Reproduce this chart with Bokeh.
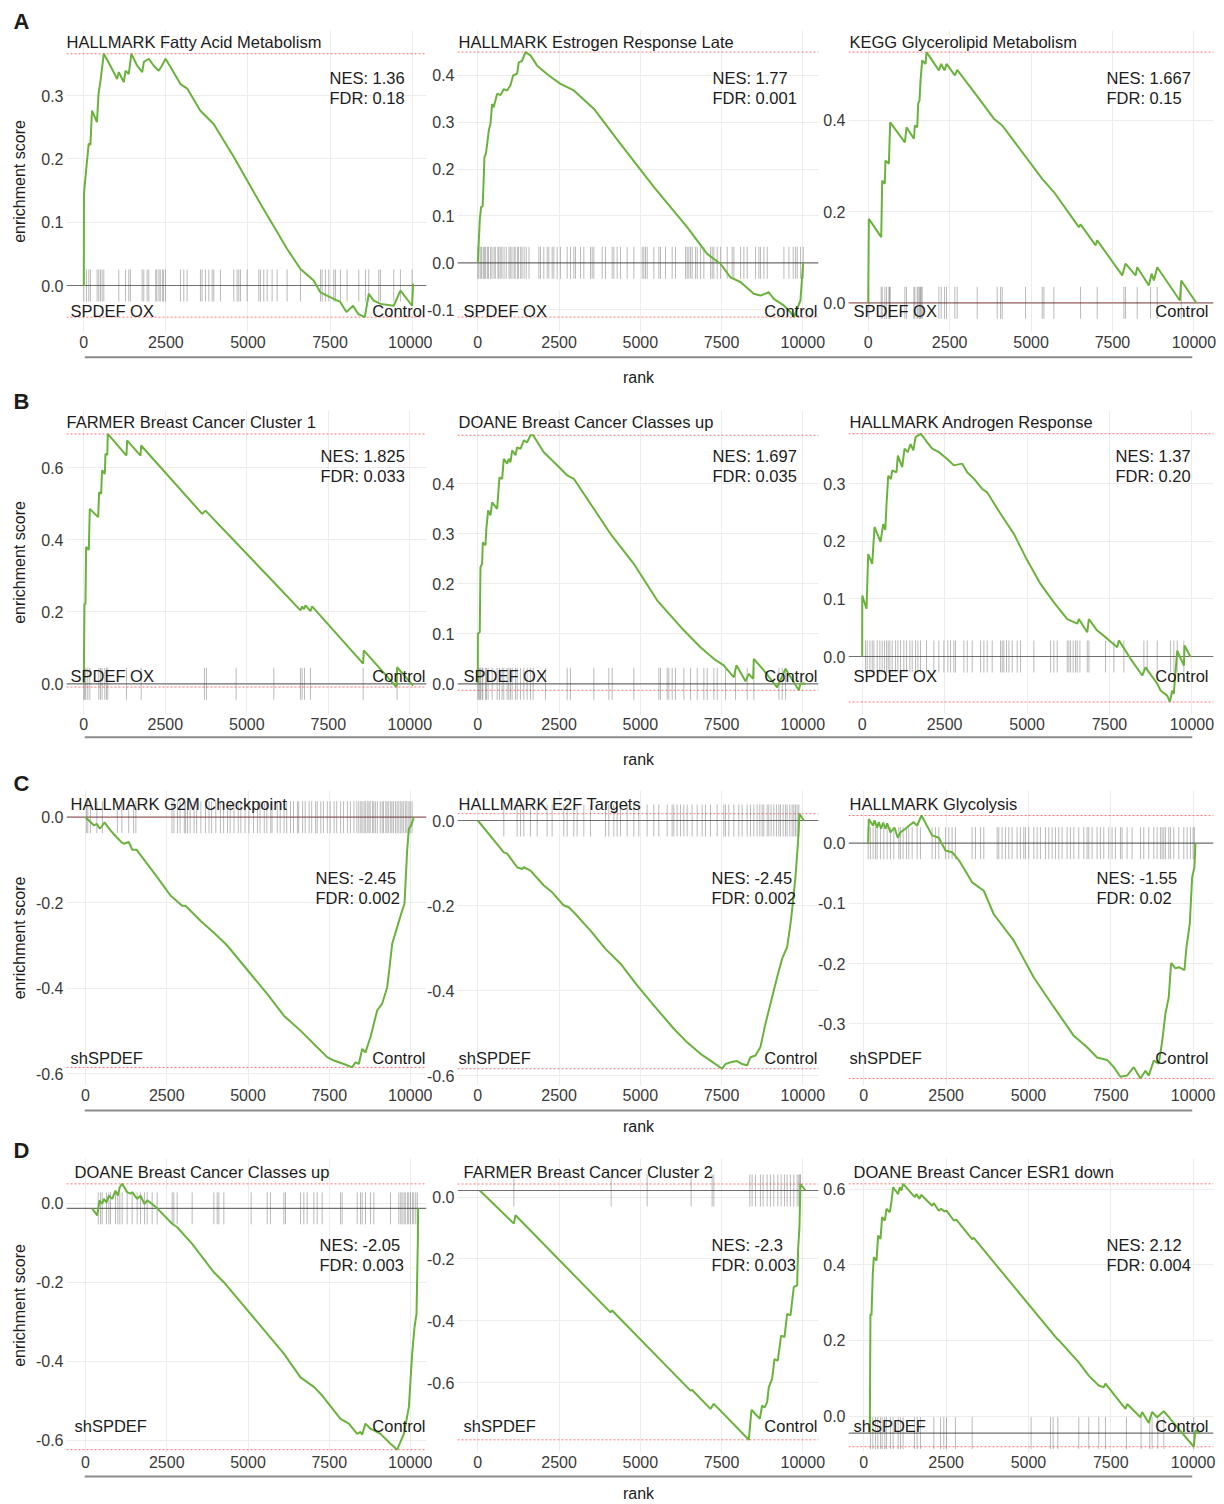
from bokeh.plotting import figure
from bokeh.layouts import column, row
from bokeh.models import Range1d, FixedTicker, PrintfTickFormatter, Span, Label
from bokeh.embed import file_html
from bokeh.resources import INLINE

# ---------------------------------------------------------------- data
# running enrichment score curves (rank, ES) and gene-set hit ranks

fatty_rank = [0, 5, 80, 150, 200, 250, 400, 450, 510, 610, 810, 1015, 1065, 1220, 1270, 1370, 1450, 1625, 1780, 1830,
              1980, 2130, 2280, 2380, 2490, 2640, 2945, 3150, 3550, 3955, 4570, 5380, 6190, 6600, 7000, 7210, 7610,
              7810, 8000, 8200, 8360, 8560, 8680, 8830, 9040, 9440, 9645, 10000, 10030]
fatty_es = [0.0, 0.145, 0.187, 0.224, 0.222, 0.276, 0.258, 0.303, 0.324, 0.366, 0.347, 0.326, 0.337, 0.321, 0.339,
            0.334, 0.366, 0.347, 0.337, 0.353, 0.358, 0.347, 0.339, 0.347, 0.358, 0.345, 0.318, 0.311, 0.276, 0.255,
            0.203, 0.129, 0.058, 0.026, 0.008, -0.011, -0.021, -0.026, -0.042, -0.032, -0.045, -0.050, -0.013,
            -0.024, -0.029, -0.032, -0.008, -0.032, 0.003]
fatty_hits = [0, 81, 152, 203, 406, 457, 508, 558, 609, 1066, 1269, 1371, 1421, 1777, 1827, 1929, 1980, 2190, 2225,
              2290, 2330, 2395, 2430, 2490, 2944, 3046, 3147, 3553, 3604, 3706, 3807, 3909, 3959, 4162, 4569, 4670,
              4721, 4772, 4975, 5330, 5381, 5482, 5584, 5736, 5888, 6193, 6599, 7208, 7259, 7360, 7462, 7614, 7665,
              7817, 8020, 8376, 8579, 8680, 8985, 9036, 9442, 9645, 10000]

estrogen_rank = [0, 60, 100, 150, 205, 250, 340, 390, 440, 490, 595, 700, 800, 900, 1005, 1087, 1210, 1260, 1360,
                 1467, 1620, 1826, 2185, 2544, 2954, 3569, 4390, 5415, 6441, 7056, 7467, 7774, 8082, 8492, 8697,
                 8954, 9108, 9415, 9620, 9723, 9928, 10010]
estrogen_es = [0.0, 0.09, 0.119, 0.121, 0.226, 0.233, 0.283, 0.297, 0.339, 0.332, 0.361, 0.358, 0.371, 0.368, 0.379,
               0.4, 0.404, 0.428, 0.431, 0.45, 0.443, 0.421, 0.4, 0.382, 0.368, 0.329, 0.254, 0.162, 0.076, 0.019,
               -0.002, -0.031, -0.041, -0.066, -0.07, -0.063, -0.077, -0.091, -0.105, -0.116, -0.08, 0.0]
estrogen_hits = [0, 35, 90, 118, 170, 205, 240, 296, 330, 395, 436, 500, 540, 620, 650, 705, 745, 808, 875, 960,
                 1000, 1050, 1115, 1150, 1220, 1255, 1320, 1360, 1425, 1490, 1575, 1878, 1929, 2031, 2134, 2185,
                 2288, 2339, 2442, 2544, 2750, 2852, 2955, 3006, 3160, 3262, 3468, 3519, 3570, 3827, 3929, 4134,
                 4186, 4288, 4391, 4596, 4801, 5058, 5109, 5160, 5212, 5417, 5571, 5622, 5776, 5981, 6084, 6392,
                 6443, 6494, 6546, 6597, 6700, 6751, 6854, 6956, 7161, 7213, 7264, 7367, 7469, 7674, 7828, 7880,
                 8085, 8187, 8290, 8546, 8649, 8700, 8803, 8906, 9419, 9573, 9706, 9778, 9829, 9932, 10014]

glycerolipid_rank = [0, 20, 400, 430, 510, 530, 635, 655, 675, 1126, 1177, 1402, 1433, 1505, 1535, 1576, 1607, 1658,
                     1760, 1791, 2170, 2241, 2344, 2405, 2661, 2733, 3327, 3859, 4115, 5343, 5701, 6469, 6520, 6981,
                     7032, 7800, 7902, 8209, 8260, 8618, 8700, 8772, 8874, 9570, 9611, 10072]
glycerolipid_es = [0.0, 0.184, 0.144, 0.268, 0.261, 0.312, 0.305, 0.352, 0.396, 0.352, 0.385, 0.36, 0.389, 0.385,
                   0.437, 0.444, 0.488, 0.532, 0.524, 0.55, 0.51, 0.524, 0.51, 0.524, 0.499, 0.511, 0.455, 0.404,
                   0.389, 0.272, 0.243, 0.166, 0.172, 0.126, 0.137, 0.06, 0.086, 0.06, 0.078, 0.038, 0.064, 0.049,
                   0.078, 0.005, 0.049, 0.0]
glycerolipid_hits = [20, 399, 430, 512, 563, 635, 655, 676, 1126, 1177, 1402, 1433, 1505, 1535, 1576, 1607, 1627,
                     1658, 2170, 2242, 2344, 2405, 2661, 2733, 3347, 3961, 4063, 4115, 4831, 5343, 5394, 5701, 6520,
                     7032, 7851, 7902, 8260, 8669, 8874, 9611]

farmer1_rank = [0, 20, 50, 72, 153, 184, 440, 470, 532, 560, 644, 665, 720, 736, 1309, 1329, 1738, 1759, 3630, 3732,
                4652, 5828, 6646, 6697, 6750, 6800, 6953, 7004, 8569, 8589, 9591, 9611, 10102]
farmer1_es = [0.0, 0.222, 0.22, 0.38, 0.372, 0.486, 0.463, 0.532, 0.528, 0.593, 0.583, 0.639, 0.636, 0.694, 0.634,
              0.676, 0.634, 0.662, 0.472, 0.481, 0.394, 0.282, 0.204, 0.215, 0.207, 0.218, 0.202, 0.215, 0.056,
              0.093, -0.009, 0.046, -0.005]
farmer1_hits = [0, 31, 61, 123, 184, 460, 511, 562, 644, 695, 736, 1309, 1759, 3701, 3763, 4673, 5828, 6646, 6697,
                6769, 6953, 8569, 9611]

doane_ox_rank = [0, 2, 60, 82, 133, 154, 236, 267, 318, 390, 441, 595, 667, 749, 800, 903, 954, 1005, 1056, 1159,
                 1210, 1313, 1415, 1518, 1620, 1703, 2031, 2441, 2749, 2954, 3569, 4082, 4800, 5518, 5928, 6338,
                 6851, 7262, 7569, 7877, 7959, 8236, 8338, 8472, 8492, 8800, 9210, 9467, 9877, 9928, 10082]
doane_ox_es = [0.0, 0.1, 0.103, 0.233, 0.24, 0.283, 0.277, 0.313, 0.347, 0.337, 0.363, 0.35, 0.413, 0.41, 0.45,
               0.44, 0.45, 0.443, 0.467, 0.457, 0.473, 0.47, 0.487, 0.483, 0.497, 0.497, 0.463, 0.437, 0.417, 0.41,
               0.35, 0.3, 0.24, 0.167, 0.137, 0.107, 0.073, 0.05, 0.037, 0.013, 0.037, 0.005, 0.02, 0.01, 0.05,
               0.027, -0.007, 0.03, -0.013, 0.001, 0.0]
doane_ox_hits = [0, 31, 62, 82, 133, 154, 236, 267, 318, 441, 595, 667, 749, 800, 903, 954, 1005, 1057, 1159, 1211,
                 1313, 1416, 1518, 1621, 1703, 2083, 2750, 2852, 3570, 4032, 4135, 4801, 5571, 5622, 5827, 5878,
                 5981, 6084, 6341, 6546, 6751, 6956, 7059, 7264, 7367, 7623, 7931, 8290, 8495, 9265, 9368, 9470]

androgen_rank = [0, 2, 131, 182, 303, 374, 556, 637, 700, 738, 789, 870, 910, 1040, 1082, 1213, 1284, 1380, 1466,
                 1550, 1618, 1700, 1770, 1870, 1972, 2123, 2326, 2578, 2780, 3033, 3185, 3387, 3640, 3792, 4196,
                 4600, 5005, 5409, 5814, 6218, 6521, 6571, 6825, 6875, 7128, 7432, 7735, 7785, 8140, 8494, 8594,
                 8948, 9050, 9250, 9332, 9403, 9450, 9555, 9757, 9777, 9960]
androgen_es = [0.0, 0.106, 0.083, 0.178, 0.161, 0.225, 0.199, 0.23, 0.22, 0.265, 0.314, 0.308, 0.323, 0.32, 0.349,
               0.329, 0.361, 0.355, 0.369, 0.358, 0.381, 0.384, 0.387, 0.38, 0.372, 0.361, 0.355, 0.343, 0.332,
               0.335, 0.32, 0.309, 0.291, 0.285, 0.248, 0.213, 0.167, 0.126, 0.094, 0.065, 0.057, 0.065, 0.042,
               0.065, 0.045, 0.031, 0.016, 0.028, -0.004, -0.033, -0.019, -0.047, -0.059, -0.068, -0.079, -0.059,
               -0.065, 0.01, -0.016, 0.019, -0.001]
androgen_hits = [101, 152, 233, 303, 354, 455, 536, 607, 677, 738, 789, 839, 910, 1011, 1082, 1163, 1264, 1345, 1446,
                 1517, 1618, 1689, 1769, 1951, 2174, 2326, 2477, 2599, 2680, 2781, 2831, 3084, 3185, 3337, 3590,
                 3691, 3792, 3943, 4196, 4247, 4297, 4378, 4449, 4550, 4702, 4803, 5207, 5713, 5814, 5915, 6218,
                 6269, 6320, 6400, 6471, 6522, 6603, 6825, 6876, 7381, 7634, 7937, 8544, 8645, 8948, 9353, 9454,
                 9555, 9757]

g2m_rank = [0, 256, 350, 441, 513, 585, 770, 974, 1128, 1180, 1333, 1436, 1569, 2205, 2615, 2974, 3077, 3538, 4051,
            4359, 5077, 5590, 6103, 6615, 7128, 7436, 7641, 7949, 8205, 8308, 8410, 8513, 8615, 8769, 8974, 9128,
            9282, 9333, 9436, 9590, 9744, 9815, 9897, 9949, 10020, 10100]
g2m_es = [0.0, -0.019, -0.016, -0.027, -0.02, -0.012, -0.031, -0.048, -0.06, -0.062, -0.058, -0.076, -0.076, -0.14,
          -0.183, -0.207, -0.207, -0.242, -0.277, -0.3, -0.366, -0.413, -0.464, -0.499, -0.538, -0.561, -0.569,
          -0.577, -0.585, -0.573, -0.577, -0.542, -0.55, -0.514, -0.452, -0.436, -0.398, -0.366, -0.296, -0.257,
          -0.218, -0.203, -0.078, -0.027, -0.019, 0.0]
g2m_hits = [30, 70, 150, 350, 520, 980, 1120, 1330, 1480, 1550, 2660, 2720, 2830, 2910, 3040, 3080, 3140, 3220, 3340,
            3420, 3550, 3690, 3800, 3880, 4010, 4150, 4250, 4370, 4450, 4570, 4700, 4780, 4910, 5030, 5170, 5290,
            5370, 5500, 5580, 5700, 5740, 5900, 5990, 6110, 6190, 6310, 6400, 6520, 6560, 6680, 6760, 6880, 6960,
            7080, 7130, 7240, 7320, 7440, 7530, 7650, 7730, 7850, 7940, 8060, 8150, 8260, 8350, 8410, 8470, 8510,
            8570, 8610, 8670, 8720, 8760, 8830, 8870, 8920, 8980, 9070, 9130, 9170, 9240, 9280, 9330, 9390, 9430,
            9480, 9540, 9590, 9640, 9700, 9740, 9790, 9850, 9890, 9950, 9990, 10050]

e2f_rank = [0, 800, 903, 1210, 1364, 1415, 1621, 2031, 2287, 2646, 2800, 3005, 3467, 3928, 4390, 4903, 5415, 6031,
            6441, 6851, 7159, 7518, 7621, 7774, 7979, 8133, 8287, 8390, 8544, 8697, 8851, 9005, 9210, 9364, 9518,
            9621, 9692, 9774, 9856, 9897, 10031]
e2f_es = [0.0, -0.075, -0.078, -0.11, -0.114, -0.11, -0.118, -0.153, -0.169, -0.2, -0.204, -0.22, -0.259, -0.302,
          -0.337, -0.388, -0.435, -0.49, -0.522, -0.549, -0.565, -0.584, -0.573, -0.569, -0.566, -0.573, -0.576,
          -0.557, -0.553, -0.533, -0.478, -0.431, -0.369, -0.325, -0.298, -0.243, -0.196, -0.133, -0.047, 0.016, 0.0]
e2f_hits = [800, 1210, 1313, 1415, 1621, 1826, 2133, 2287, 2646, 2749, 2954, 3056, 3262, 3467, 3928, 4031, 4185, 4287,
            4390, 4595, 4800, 4954, 5210, 5415, 5569, 5826, 5979, 6031, 6133, 6236, 6338, 6441, 6595, 6749, 6903,
            7005, 7159, 7364, 7569, 7621, 7723, 7877, 8031, 8133, 8287, 8390, 8492, 8595, 8677, 8749, 8800, 8903,
            8954, 9026, 9108, 9190, 9262, 9313, 9395, 9467, 9518, 9600, 9672, 9723, 9774, 9826, 9877]

glycolysis_rank = [132, 152, 283, 324, 405, 455, 526, 587, 658, 709, 810, 931, 1032, 1113, 1265, 1366, 1518, 1619,
                   1751, 2075, 2277, 2480, 2682, 2885, 3290, 3644, 3947, 4555, 5162, 5769, 6377, 6781, 7085, 7389,
                   7591, 7794, 7996, 8198, 8401, 8553, 8654, 8806, 8957, 9059, 9160, 9261, 9332, 9464, 9565, 9737,
                   9798, 9899, 9970, 10040, 10071]
glycolysis_es = [0.0, 0.040, 0.029, 0.038, 0.026, 0.035, 0.024, 0.034, 0.024, 0.033, 0.018, 0.026, 0.009, 0.018,
                 0.024, 0.029, 0.035, 0.029, 0.046, 0.013, 0.009, -0.012, -0.015, -0.028, -0.065, -0.079, -0.118,
                 -0.162, -0.223, -0.272, -0.320, -0.339, -0.356, -0.360, -0.372, -0.388, -0.386, -0.372, -0.391,
                 -0.378, -0.386, -0.361, -0.366, -0.330, -0.283, -0.256, -0.199, -0.208, -0.206, -0.211, -0.173,
                 -0.134, -0.057, -0.040, 0.0]
glycolysis_hits = [132, 202, 283, 354, 405, 506, 607, 709, 810, 911, 1063, 1113, 1194, 1296, 1366, 1468, 1619, 1721,
                   2075, 2176, 2277, 2480, 2581, 2682, 2783, 3290, 3391, 3543, 3644, 4049, 4099, 4200, 4302, 4403,
                   4504, 4656, 4757, 4858, 4909, 5010, 5162, 5263, 5364, 5516, 5617, 5719, 5820, 5921, 6022, 6174,
                   6275, 6377, 6528, 6680, 6781, 6832, 6933, 7085, 7186, 7287, 7439, 7540, 7642, 7794, 7844, 7996,
                   8148, 8401, 8502, 8654, 8806, 8907, 9008, 9059, 9109, 9160, 9261, 9312, 9413, 9565, 9717, 9818,
                   9919, 10000, 10040]

doane_sh_rank = [205, 359, 431, 513, 564, 646, 718, 821, 923, 995, 1056, 1128, 1282, 1385, 1436, 1590, 1692, 1815,
                 1897, 2051, 2205, 2667, 2821, 3282, 3949, 4256, 5077, 6103, 6615, 7026, 7282, 7846, 8103, 8359,
                 8462, 8513, 8615, 8769, 8872, 9077, 9385, 9590, 9795, 9949, 10051, 10123, 10185, 10226, 10236]
doane_sh_es = [-0.013, -0.031, 0.007, -0.002, 0.011, 0.002, 0.019, 0.011, 0.032, 0.019, 0.041, 0.049, 0.028, 0.024,
               0.028, 0.011, 0.019, -0.002, 0.007, -0.002, -0.013, -0.052, -0.061, -0.103, -0.175, -0.2, -0.28,
               -0.381, -0.441, -0.465, -0.487, -0.546, -0.558, -0.584, -0.579, -0.586, -0.558, -0.571, -0.575,
               -0.584, -0.609, -0.624, -0.584, -0.517, -0.381, -0.314, -0.28, -0.095, -0.013]
doane_sh_hits = [390, 462, 513, 646, 718, 769, 923, 995, 1056, 1128, 1282, 1436, 1590, 1692, 1815, 1897, 2051, 2205,
                 2667, 2718, 2821, 3282, 3949, 4051, 4103, 4256, 5097, 5590, 5692, 6103, 6154, 6615, 6718, 6821,
                 7026, 7128, 7282, 7846, 7897, 8359, 8462, 8513, 8615, 8769, 8872, 9385, 9641, 9700, 9740, 9800,
                 9840, 9905, 9945, 10000, 10060, 10100, 10160, 10210]

farmer2_rank = [62, 1108, 1159, 4082, 4133, 6544, 6595, 7159, 7262, 8338, 8421, 8677, 8749, 8821, 8903, 8954, 9056,
                9128, 9231, 9333, 9436, 9518, 9621, 9723, 9826, 9856, 9897, 9928, 10082]
farmer2_es = [0.021, -0.086, -0.059, -0.373, -0.367, -0.626, -0.624, -0.685, -0.669, -0.785, -0.688, -0.717, -0.674,
              -0.681, -0.663, -0.615, -0.588, -0.524, -0.529, -0.448, -0.453, -0.378, -0.383, -0.291, -0.286, -0.168,
              -0.098, 0.042, 0.021]
farmer2_hits = [1108, 4103, 5210, 6564, 7210, 7262, 8369, 8441, 8544, 8697, 8779, 8903, 9005, 9108, 9231, 9333,
                9436, 9518, 9621, 9723, 9826, 9877, 9908, 9928]

esr1_rank = [182, 202, 233, 273, 304, 385, 435, 506, 557, 638, 688, 789, 830, 891, 1043, 1093, 1144, 1194, 1549, 1599,
             1690, 1741, 2075, 2126, 2277, 2348, 2449, 2510, 2733, 2814, 3290, 3340, 5870, 5921, 6528, 6832, 7136,
             7287, 7338, 7945, 7996, 8401, 8451, 8654, 8755, 8907, 9109, 10020, 10071, 10223]
esr1_es = [-0.045, 0.270, 0.266, 0.376, 0.420, 0.411, 0.477, 0.468, 0.526, 0.517, 0.548, 0.539, 0.560, 0.605, 0.587,
           0.605, 0.596, 0.614, 0.579, 0.587, 0.574, 0.585, 0.556, 0.563, 0.543, 0.548, 0.541, 0.543, 0.517, 0.519,
           0.468, 0.471, 0.204, 0.201, 0.142, 0.107, 0.081, 0.076, 0.086, 0.019, 0.032, -0.003, 0.011, -0.018, 0.011,
           -0.003, 0.013, -0.081, -0.038, -0.045]
esr1_hits = [202, 273, 354, 425, 506, 557, 638, 688, 810, 891, 1043, 1113, 1194, 1538, 1619, 1721, 2126, 2328, 2429,
             2510, 2783, 3290, 5081, 5668, 5749, 5891, 6528, 6832, 7136, 7338, 7976, 8421, 8684, 8755, 8927, 9109,
             10020]

# level of the hit-rug baseline in each panel
rug_baseline = {"doane_sh": -0.013, "farmer2": 0.021, "esr1": -0.045}

panel_keys = [["fatty", "estrogen", "glycerolipid"],
              ["farmer1", "doane_ox", "androgen"],
              ["g2m", "e2f", "glycolysis"],
              ["doane_sh", "farmer2", "esr1"]]

titles = {
    "fatty": "HALLMARK Fatty Acid Metabolism", "estrogen": "HALLMARK Estrogen Response Late",
    "glycerolipid": "KEGG Glycerolipid Metabolism", "farmer1": "FARMER Breast Cancer Cluster 1",
    "doane_ox": "DOANE Breast Cancer Classes up", "androgen": "HALLMARK Androgen Response",
    "g2m": "HALLMARK G2M Checkpoint", "e2f": "HALLMARK E2F Targets", "glycolysis": "HALLMARK Glycolysis",
    "doane_sh": "DOANE Breast Cancer Classes up", "farmer2": "FARMER Breast Cancer Cluster 2",
    "esr1": "DOANE Breast Cancer ESR1 down",
}
nes_values = {"fatty": "1.36", "estrogen": "1.77", "glycerolipid": "1.667", "farmer1": "1.825",
              "doane_ox": "1.697", "androgen": "1.37", "g2m": "-2.45", "e2f": "-2.45", "glycolysis": "-1.55",
              "doane_sh": "-2.05", "farmer2": "-2.3", "esr1": "2.12"}
fdr_values = {"fatty": "0.18", "estrogen": "0.001", "glycerolipid": "0.15", "farmer1": "0.033",
              "doane_ox": "0.035", "androgen": "0.20", "g2m": "0.002", "e2f": "0.002", "glycolysis": "0.02",
              "doane_sh": "0.003", "farmer2": "0.003", "esr1": "0.004"}

y_ticks = {
    "fatty": [0.0, 0.1, 0.2, 0.3], "estrogen": [-0.1, 0.0, 0.1, 0.2, 0.3, 0.4], "glycerolipid": [0.0, 0.2, 0.4],
    "farmer1": [0.0, 0.2, 0.4, 0.6], "doane_ox": [0.0, 0.1, 0.2, 0.3, 0.4], "androgen": [0.0, 0.1, 0.2, 0.3],
    "g2m": [-0.6, -0.4, -0.2, 0.0], "e2f": [-0.6, -0.4, -0.2, 0.0], "glycolysis": [-0.3, -0.2, -0.1, 0.0],
    "doane_sh": [-0.6, -0.4, -0.2, 0.0], "farmer2": [-0.6, -0.4, -0.2, 0.0], "esr1": [0.0, 0.2, 0.4, 0.6],
}
rank_ticks = [0, 2500, 5000, 7500, 10000]
row_letters = ["A", "B", "C", "D"]
group_labels = [("SPDEF OX", "Control"), ("SPDEF OX", "Control"), ("shSPDEF", "Control"), ("shSPDEF", "Control")]

series = {k: (globals()[k + "_rank"], globals()[k + "_es"], globals()[k + "_hits"])
          for r in panel_keys for k in r}

# ---------------------------------------------------------------- page geometry (pixels)
# column boxes: figure left, figure right, frame left, frame right, left margin overlap
COL_BOX = [(0, 432, 66, 426, 0), (423, 826, 457, 818, -9), (814, 1224, 848, 1213, -12)]
# row boxes: frame top (= figure top), frame bottom, figure bottom
ROW_BOX = [(30, 332, 355), (410, 714, 735), (790, 1085, 1108), (1158, 1452, 1474)]
# band holding each panel letter: top, height, letter centre
LETTER_BAND = [(0, 40, 21.0), (380, 40, 401.0), (760, 40, 783.0), (1130, 40, 1150.0)]
LETTER_X = 13
# band under each row holding the shared "rank" caption: height, rule offset, caption offset
RANK_BAND = [(35, 1.7, 22), (35, 1.7, 24), (32, 2.0, 18), (30, 2.0, 19)]

# per panel: pixel of rank 0, pixels per rank, pixel of ES 0, pixels per ES unit
PIX = {
    "fatty": (83.3, 0.03283, 285.0, 633.3), "estrogen": (477.3, 0.0325, 262.3, 468.3),
    "glycerolipid": (867.7, 0.03257, 302.3, 455.8), "farmer1": (83.3, 0.0326, 683.3, 360.0),
    "doane_ox": (477.3, 0.0325, 683.3, 500.0), "androgen": (861.7, 0.03297, 656.0, 575.7),
    "g2m": (85.0, 0.0325, 816.7, 427.7), "e2f": (477.3, 0.0325, 820.0, 425.0),
    "glycolysis": (863.3, 0.03293, 842.7, 602.0), "doane_sh": (85.0, 0.0325, 1202.7, 395.0),
    "farmer2": (477.3, 0.0325, 1196.5, 309.3), "esr1": (863.3, 0.03293, 1415.6, 378.3),
}

TITLE_X = [[66, 458, 849], [66, 458, 849], [70, 458, 849], [74, 463, 853]]
TITLE_Y = [41.7, 421.7, 803.3, 1171.0]
NES_X = [[329, 712, 1106], [320, 712, 1115], [315, 711, 1096], [319, 711, 1106]]
NES_Y = [77.0, 455.0, 877.0, 1244.3]
GROUP_X = [[70, 463, 853], [70, 463, 853], [70, 458, 849], [74, 463, 853]]
CTRL_X = [425, 817, 1208]
GROUP_Y = [310.0, 675.0, 1057.0, 1425.0]

FONT = "Liberation Sans"
GREEN = "#6ab23c"
INK = "#1c1c1c"
TICK_INK = "#3a3a3a"
GRID = "#ececec"
RUG = "#4a4a4a"
BASE = "#707070"
RED = "#ff7474"


def text(p, x, y, s, size="16.5px", align="left", bold=False):
    p.add_layout(Label(x=x, y=y, text=s, text_align=align, text_baseline="middle", text_font=FONT,
                       text_font_size=size, text_color=INK,
                       text_font_style="bold" if bold else "normal"))


def build_panel(r, c):
    key = panel_keys[r][c]
    ranks, es, hits = series[key]
    x0, sx, zero, sy = PIX[key]
    base = rug_baseline.get(key, 0.0)
    fig_l, fig_r, fl, fr, overlap = COL_BOX[c]
    ft, fb, fig_b = ROW_BOX[r]

    def dx(px):
        return (px - x0) / sx

    def dy(py):
        return (zero - py) / sy

    p = figure(width=fig_r - fig_l, height=fig_b - ft,
               x_range=Range1d(dx(fl), dx(fr)), y_range=Range1d(dy(fb), dy(ft)),
               min_border_left=fl - fig_l, min_border_right=fig_r - fr,
               min_border_top=0, min_border_bottom=fig_b - fb,
               output_backend="svg", toolbar_location=None,
               background_fill_color="white", border_fill_color=None, outline_line_color=None)
    if overlap:
        p.margin = (0, 0, 0, overlap)

    p.xaxis.ticker = FixedTicker(ticks=rank_ticks)
    p.xaxis.formatter = PrintfTickFormatter(format="%d")
    p.yaxis.ticker = FixedTicker(ticks=y_ticks[key])
    p.yaxis.formatter = PrintfTickFormatter(format="%.1f")
    p.axis.axis_line_color = None
    p.axis.major_tick_line_color = None
    p.axis.minor_tick_line_color = None
    p.axis.major_tick_out = 0
    p.axis.major_tick_in = 0
    p.axis.major_label_standoff = 3
    p.axis.major_label_text_font = FONT
    p.axis.major_label_text_font_size = "16px"
    p.axis.major_label_text_color = TICK_INK
    p.xgrid.grid_line_color = GRID
    p.ygrid.grid_line_color = GRID

    if c == 0:
        p.yaxis.axis_label = "enrichment score"
        p.yaxis.axis_label_text_font = FONT
        p.yaxis.axis_label_text_font_size = "16px"
        p.yaxis.axis_label_text_font_style = "normal"
        p.yaxis.axis_label_text_color = INK
        p.yaxis.axis_label_standoff = 10 if r < 2 else 5

    # gene-set hit rug around the baseline
    half = 16.0 / sy
    p.segment(x0=hits, y0=[base - half] * len(hits), x1=hits, y1=[base + half] * len(hits),
              line_color=RUG, line_alpha=0.38, line_width=1)
    p.add_layout(Span(location=base, dimension="width", line_color=BASE, line_width=1.2, level="underlay"))
    # extreme enrichment levels
    for lvl in (max(es), min(es)):
        p.add_layout(Span(location=lvl, dimension="width", line_color=RED, line_width=1,
                          line_dash="2 2", level="underlay"))
    p.line(ranks, es, line_color=GREEN, line_width=2)

    text(p, dx(TITLE_X[r][c]), dy(TITLE_Y[r]), titles[key])
    text(p, dx(NES_X[r][c]), dy(NES_Y[r]), "NES: " + nes_values[key])
    text(p, dx(NES_X[r][c]), dy(NES_Y[r] + 20.5), "FDR: " + fdr_values[key])
    left_lab, right_lab = group_labels[r]
    text(p, dx(GROUP_X[r][c]), dy(GROUP_Y[r]), left_lab)
    text(p, dx(CTRL_X[c]), dy(GROUP_Y[r]), right_lab, align="right")
    return p


def build_letter_band(r):
    top, h, yc = LETTER_BAND[r]
    p = figure(width=1224, height=h, x_range=Range1d(0, 1224), y_range=Range1d(0, h),
               min_border_left=0, min_border_right=0, min_border_top=0, min_border_bottom=0,
               x_axis_type=None, y_axis_type=None, output_backend="svg", toolbar_location=None,
               background_fill_color=None, border_fill_color=None, outline_line_color=None)
    p.grid.visible = False
    text(p, LETTER_X, top + h - yc, row_letters[r], size="22px", bold=True)
    return p


def build_rank_band(r):
    h, rule_off, cap_off = RANK_BAND[r]
    p = figure(width=1224, height=h, x_range=Range1d(0, 1), y_range=Range1d(0, h),
               min_border_left=84, min_border_right=32, min_border_top=0, min_border_bottom=0,
               x_axis_type=None, y_axis_type=None, output_backend="svg", toolbar_location=None,
               background_fill_color=None, border_fill_color=None, outline_line_color=None)
    p.grid.visible = False
    p.add_layout(Span(location=h - rule_off, dimension="width", line_color="#8a8a8a", line_width=2))
    p.add_layout(Label(x=0.5, y=h - cap_off, text="rank", text_align="center", text_baseline="middle",
                       text_font=FONT, text_font_size="16px", text_color=INK))
    return p


blocks = []
prev_bottom = 0
for r in range(4):
    top, h, _ = LETTER_BAND[r]
    blocks.append(row(build_letter_band(r), margin=(top - prev_bottom, 0, 0, 0)))
    ft = ROW_BOX[r][0]
    blocks.append(row(*[build_panel(r, c) for c in range(3)], margin=(ft - (top + h), 0, 0, 0)))
    blocks.append(build_rank_band(r))
    prev_bottom = ROW_BOX[r][2] + RANK_BAND[r][0]

page = column(*blocks)
open("out.html", "w").write(file_html(page, INLINE, "GSEA enrichment plots"))
